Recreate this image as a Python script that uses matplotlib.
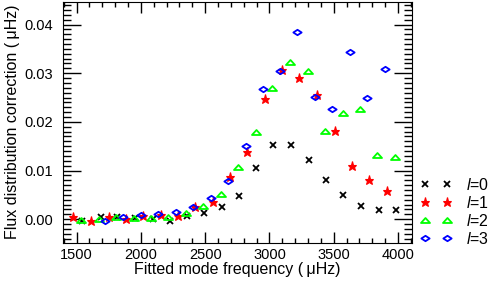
import matplotlib
matplotlib.use("Agg")
import matplotlib.pyplot as plt
from matplotlib.path import Path
from matplotlib.ticker import MultipleLocator, FormatStrFormatter

plt.rcParams['font.family'] = ['Liberation Sans', 'DejaVu Sans']
plt.rcParams['font.size'] = 10.5
plt.rcParams['mathtext.fontset'] = 'custom'
plt.rcParams['mathtext.it'] = 'Liberation Sans:italic'
plt.rcParams['mathtext.rm'] = 'Liberation Sans'

# l=0 modes
freq_l0 = [1544, 1687, 1813, 1953, 2093, 2225, 2358, 2490, 2630, 2765,
           2897, 3029, 3166, 3304, 3436, 3574, 3711, 3849, 3986]
corr_l0 = [-0.0003, 0.0004, 0.0005, 0.0002, 0.0000, -0.0003, 0.0007, 0.0012, 0.0026, 0.0048,
           0.0105, 0.0153, 0.0153, 0.0122, 0.0081, 0.0050, 0.0028, 0.0019, 0.0018]

# l=1 modes
freq_l1 = [1471, 1614, 1749, 1883, 2016, 2153, 2291, 2423, 2560, 2690,
           2827, 2962, 3096, 3231, 3368, 3506, 3640, 3775, 3912]
corr_l1 = [0.0004, -0.0003, 0.0005, 0.0001, 0.0007, 0.0009, 0.0007, 0.0025, 0.0035, 0.0087,
           0.0138, 0.0246, 0.0307, 0.0291, 0.0255, 0.0181, 0.0109, 0.0080, 0.0057]

# l=2 modes
freq_l2 = [1534, 1673, 1808, 1943, 2078, 2213, 2350, 2485, 2622, 2757,
           2892, 3021, 3158, 3297, 3431, 3569, 3703, 3840, 3978]
corr_l2 = [-0.0001, 0.0000, 0.0005, 0.0003, 0.0002, 0.0005, 0.0013, 0.0027, 0.0052, 0.0107,
           0.0180, 0.0269, 0.0322, 0.0305, 0.0181, 0.0218, 0.0226, 0.0131, 0.0127]

# l=3 modes
freq_l3 = [1723, 1860, 1998, 2132, 2270, 2407, 2542, 2677, 2815, 2948,
           3081, 3218, 3352, 3490, 3625, 3762, 3900]
corr_l3 = [-0.0003, 0.0005, 0.0009, 0.0011, 0.0014, 0.0025, 0.0043, 0.0079, 0.0151, 0.0268,
           0.0305, 0.0384, 0.0251, 0.0227, 0.0343, 0.0249, 0.0309]

# flattened triangle and diamond, like the IDL plot symbols
tri = Path([(-1, -0.55), (1, -0.55), (0, 0.55), (-1, -0.55)],
           [Path.MOVETO, Path.LINETO, Path.LINETO, Path.CLOSEPOLY])
dia = Path([(-1, 0), (0, 0.65), (1, 0), (0, -0.65), (-1, 0)],
           [Path.MOVETO, Path.LINETO, Path.LINETO, Path.LINETO, Path.CLOSEPOLY])

fig = plt.figure(figsize=(4.88, 2.81), dpi=100)
ax = fig.add_axes([0.129, 0.137, 0.7146, 0.857])

ax.plot(freq_l0, corr_l0, ls='none', marker='x', ms=5, mew=1.3, color='black', label='$l$=0')
ax.plot(freq_l1, corr_l1, ls='none', marker='*', ms=6.5, mew=0.8, color='red', label='$l$=1')
ax.plot(freq_l2, corr_l2, ls='none', marker=tri, ms=6.5, mew=1.3, mfc='none', color='#00ff00', label='$l$=2')
ax.plot(freq_l3, corr_l3, ls='none', marker=dia, ms=6, mew=1.3, mfc='none', color='blue', label='$l$=3')

ax.set_xlim(1394, 4106)
ax.set_ylim(-0.0048, 0.0447)
ax.xaxis.set_major_locator(MultipleLocator(500))
ax.xaxis.set_minor_locator(MultipleLocator(100))
ax.yaxis.set_major_locator(MultipleLocator(0.01))
ax.yaxis.set_minor_locator(MultipleLocator(0.001))
ax.yaxis.set_major_formatter(FormatStrFormatter('%.2f'))

ax.tick_params(axis='both', which='both', direction='in', top=True, right=True, width=1)
ax.tick_params(axis='x', which='major', length=8, pad=4)
ax.tick_params(axis='x', which='minor', length=3.5)
ax.tick_params(axis='y', which='major', length=13, pad=7)
ax.tick_params(axis='y', which='minor', length=6)

ax.set_xlabel('Fitted mode frequency (\u2009μHz)', fontsize=11.5, labelpad=0)
ax.set_ylabel('Flux distribution correction (\u2009μHz)', fontsize=11.5, labelpad=3)

ax.legend(loc='center left', bbox_to_anchor=(0.861, 0.247), bbox_transform=fig.transFigure,
          frameon=False, numpoints=2, fontsize=11.5, handlelength=2.0, handletextpad=0.85,
          labelspacing=0.125, borderaxespad=0, borderpad=0)

fig.savefig('out.png', dpi=100)
